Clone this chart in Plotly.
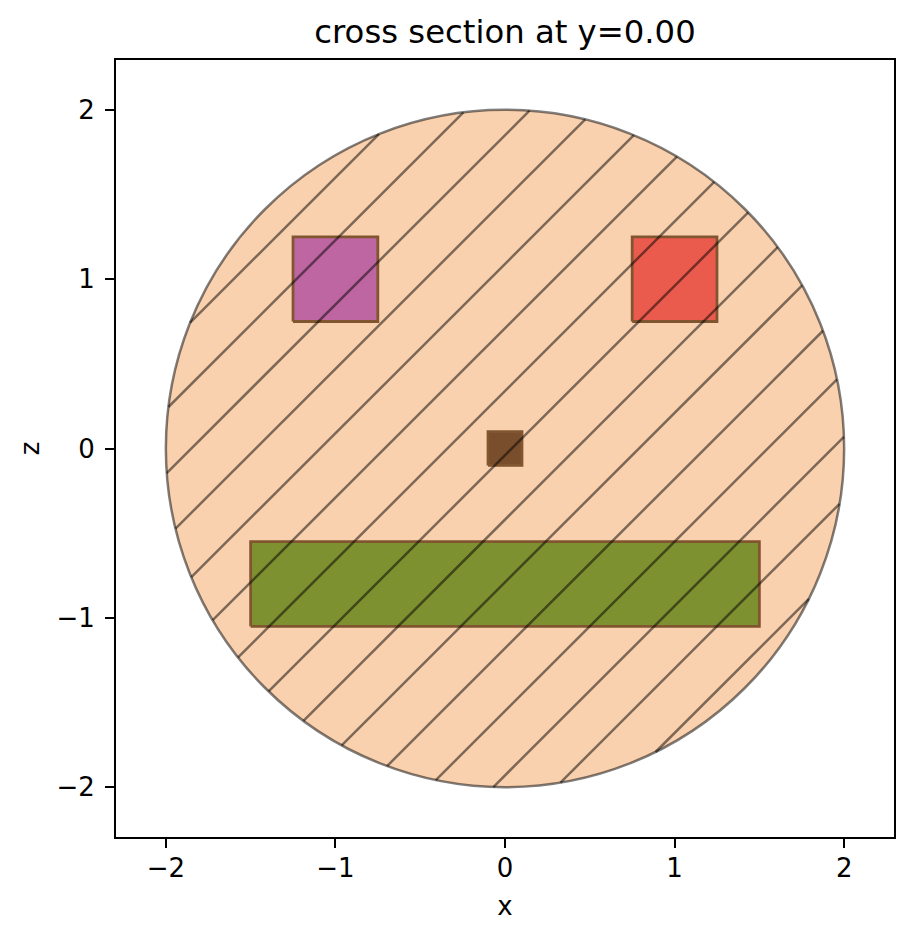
import numpy as np
import plotly.graph_objects as go

# hatch lines are z = x + offset
hatch_offsets = [2.60, 2.23, 1.85, 1.47, 1.09, 0.71, 0.34, -0.04,
                 -0.42, -0.79, -1.18, -1.55, -1.93, -2.30, -2.68]
circle_radius = 2.0

rect_names = ['metal left', 'metal right', 'core', 'bottom slab']
rect_x0 = [-1.25, 0.75, -0.1, -1.5]
rect_x1 = [-0.75, 1.25, 0.1, 1.5]
rect_z0 = [0.75, 0.75, -0.1, -1.05]
rect_z1 = [1.25, 1.25, 0.1, -0.55]
rect_colors = ['#BE66A2', '#EA5B4D', '#784E2C', '#7D9130']

x_ticks = [-2, -1, 0, 1, 2]
z_ticks = [-2, -1, 0, 1, 2]

FONT = 'DejaVu Sans'
TICK_SIZE = 26

fig = go.Figure()

# background circle
fig.add_shape(type='circle', xref='x', yref='y',
              x0=-circle_radius, x1=circle_radius,
              y0=-circle_radius, y1=circle_radius,
              fillcolor='#FAD1AE', line=dict(color='rgba(0,0,0,0.5)', width=2.5),
              layer='below')

# rectangles
for i in range(len(rect_names)):
    fig.add_trace(go.Scatter(
        x=[rect_x0[i], rect_x1[i], rect_x1[i], rect_x0[i], rect_x0[i]],
        y=[rect_z0[i], rect_z0[i], rect_z1[i], rect_z1[i], rect_z0[i]],
        mode='lines', fill='toself', fillcolor=rect_colors[i],
        line=dict(color='#80552F', width=2.8),
        name=rect_names[i], showlegend=False))

# hatch lines clipped to the circle
hatch_x = []
hatch_z = []
for off in hatch_offsets:
    half = np.sqrt(2 * circle_radius ** 2 - off ** 2) / 2
    mid = -off / 2
    hatch_x += [mid - half, mid + half, None]
    hatch_z += [mid - half + off, mid + half + off, None]

fig.add_trace(go.Scatter(x=hatch_x, y=hatch_z, mode='lines',
                         line=dict(color='rgba(0,0,0,0.5)', width=2.5),
                         name='hatch', showlegend=False))

# page has an 8px body margin, so everything is 8px less than on the picture
fig.update_layout(
    width=905, height=932,
    autosize=False,
    paper_bgcolor='white', plot_bgcolor='white',
    font=dict(family=FONT, color='black', size=TICK_SIZE),
    margin=dict(l=108, r=19, t=52, b=103),
    title=dict(text='cross section at y=0.00', x=0.5, xanchor='center',
               xref='paper', y=1 - 24 / 932, yanchor='middle',
               font=dict(family=FONT, size=32.3, color='black')))

# plotly draws the frame outside the plot area, so the range is a touch under 2.3
axis_style = dict(range=[-2.294, 2.294], showgrid=False, zeroline=False,
                  showline=True, mirror=True, linecolor='black', linewidth=2,
                  ticks='outside', ticklen=9, tickwidth=2, tickcolor='black',
                  tickfont=dict(family=FONT, size=TICK_SIZE, color='black'))

fig.update_xaxes(tickvals=x_ticks, ticklabelstandoff=-2,
                 title=dict(text='x', standoff=15, font=dict(size=TICK_SIZE)),
                 **axis_style)
fig.update_yaxes(tickvals=z_ticks, ticklabelstandoff=5,
                 title=dict(text='z', standoff=9, font=dict(size=TICK_SIZE)),
                 **axis_style)

fig.write_html("out.html")
